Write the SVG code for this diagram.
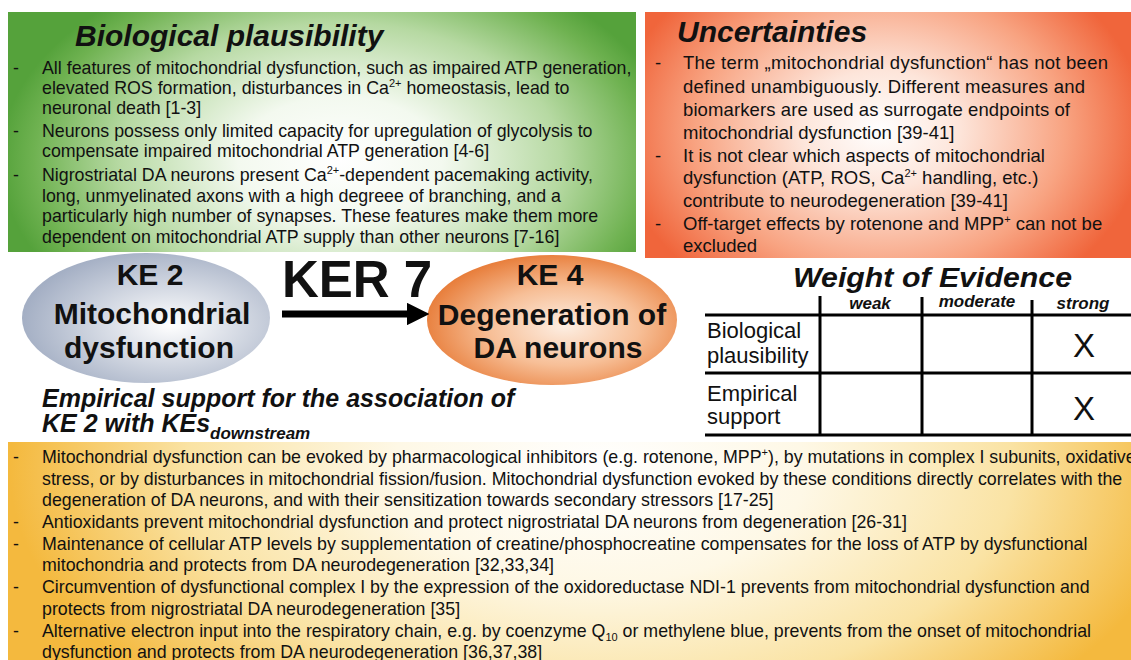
<svg xmlns="http://www.w3.org/2000/svg" width="1131" height="660" viewBox="0 0 1131 660">
<defs>
<radialGradient id="gGreen" gradientUnits="userSpaceOnUse" cx="340" cy="160" r="340" gradientTransform="translate(340 160) scale(1 0.62) translate(-340 -160)">
<stop offset="0" stop-color="#ffffff"/>
<stop offset="0.3" stop-color="#f3f9ef"/>
<stop offset="0.65" stop-color="#b6d9a2"/>
<stop offset="0.9" stop-color="#6fb251"/>
<stop offset="1" stop-color="#55a23b"/>
</radialGradient>
<radialGradient id="gOrange" gradientUnits="userSpaceOnUse" cx="880" cy="130" r="265" gradientTransform="translate(880 130) scale(1 0.75) translate(-880 -130)">
<stop offset="0" stop-color="#ffffff"/>
<stop offset="0.3" stop-color="#fde5da"/>
<stop offset="0.7" stop-color="#f8a381"/>
<stop offset="1" stop-color="#f0653b"/>
</radialGradient>
<radialGradient id="gYellow" gradientUnits="userSpaceOnUse" cx="600" cy="470" r="590" gradientTransform="translate(600 470) scale(1 0.55) translate(-600 -470)">
<stop offset="0" stop-color="#ffffff"/>
<stop offset="0.35" stop-color="#fef8e6"/>
<stop offset="0.7" stop-color="#fae3a4"/>
<stop offset="1" stop-color="#f4b93e"/>
</radialGradient>
<radialGradient id="gGray" cx="0.6" cy="0.55" r="0.6">
<stop offset="0" stop-color="#ffffff"/>
<stop offset="1" stop-color="#a4afc4"/>
</radialGradient>
<radialGradient id="gPeach" cx="0.55" cy="0.55" r="0.6">
<stop offset="0" stop-color="#fdeee2"/>
<stop offset="0.5" stop-color="#f7bf97"/>
<stop offset="1" stop-color="#e67630"/>
</radialGradient>
<marker id="head" viewBox="0 0 10 10" refX="0" refY="5" markerWidth="3.2" markerHeight="3.2" markerUnits="strokeWidth" orient="auto">
<path d="M0,0 L10,5 L0,10 z" fill="#000"/>
</marker>
<style>
text{font-family:"Liberation Sans",Arial,sans-serif;fill:#111}
.h{font-weight:bold;font-style:italic;font-size:30px}
.t{font-size:17.8px}
.o{font-size:18.5px}
.ke{font-weight:bold;font-size:30px;text-anchor:middle}
.th{font-weight:bold;font-style:italic;font-size:17px;text-anchor:middle}
.rl{font-size:22px}
.x{font-size:33px;text-anchor:middle}
.tl{stroke:#000;stroke-width:3;fill:none}
.sup{font-size:11px}
</style>
</defs>

<g id="bio-plausibility">
<rect x="8" y="12" width="628" height="240" fill="url(#gGreen)"/>
<text class="h" x="75" y="46">Biological plausibility</text>
<text class="t" x="13" y="74">-</text>
<text class="t" x="42" y="74">All features of mitochondrial dysfunction, such as impaired ATP generation,</text>
<text class="t" x="42" y="94">elevated ROS formation, disturbances in Ca<tspan class="sup" dy="-7">2+</tspan><tspan dy="7"> homeostasis, lead to</tspan></text>
<text class="t" x="42" y="114">neuronal death [1-3]</text>
<text class="t" x="13" y="137">-</text>
<text class="t" x="42" y="137">Neurons possess only limited capacity for upregulation of glycolysis to</text>
<text class="t" x="42" y="157">compensate impaired mitochondrial ATP generation [4-6]</text>
<text class="t" x="13" y="181">-</text>
<text class="t" x="42" y="181">Nigrostriatal DA neurons present Ca<tspan class="sup" dy="-7">2+</tspan><tspan dy="7">-dependent pacemaking activity,</tspan></text>
<text class="t" x="42" y="202">long, unmyelinated axons with a high degreee of branching, and a</text>
<text class="t" x="42" y="222">particularly high number of synapses. These features make them more</text>
<text class="t" x="42" y="243">dependent on mitochondrial ATP supply than other neurons [7-16]</text>
</g>

<g id="uncertainties">
<rect x="645" y="12" width="490" height="246" fill="url(#gOrange)"/>
<text class="h" x="677" y="42">Uncertainties</text>
<text class="o" x="655" y="69">-</text>
<text class="o" x="683" y="69" textLength="425" lengthAdjust="spacing">The term „mitochondrial dysfunction“ has not been</text>
<text class="o" x="683" y="93" textLength="402" lengthAdjust="spacing">defined unambiguously.  Different measures and</text>
<text class="o" x="683" y="116" textLength="387" lengthAdjust="spacing">biomarkers are used as surrogate endpoints of</text>
<text class="o" x="683" y="139">mitochondrial dysfunction [39-41]</text>
<text class="o" x="655" y="162">-</text>
<text class="o" x="683" y="162">It is not clear which aspects of mitochondrial</text>
<text class="o" x="683" y="184">dysfunction (ATP, ROS, Ca<tspan class="sup" dy="-7">2+</tspan><tspan dy="7"> handling, etc.)</tspan></text>
<text class="o" x="683" y="207">contribute to neurodegeneration [39-41]</text>
<text class="o" x="655" y="230">-</text>
<text class="o" x="683" y="230">Off-target effects by rotenone and MPP<tspan class="sup" dy="-7">+</tspan><tspan dy="7"> can not be</tspan></text>
<text class="o" x="683" y="252">excluded</text>
</g>

<g id="ke2">
<ellipse cx="146" cy="318" rx="124" ry="65" fill="url(#gGray)"/>
<text class="ke" x="150" y="285">KE 2</text>
<text class="ke" x="152" y="324">Mitochondrial</text>
<text class="ke" x="149" y="358">dysfunction</text>
</g>

<g id="ke4">
<ellipse cx="552" cy="320" rx="125" ry="65" fill="url(#gPeach)"/>
<text class="ke" x="550" y="285">KE 4</text>
<text class="ke" x="552" y="325">Degeneration of</text>
<text class="ke" x="558" y="358">DA neurons</text>
</g>

<g id="connectors">
<line x1="282" y1="314" x2="407" y2="314" stroke="#000" stroke-width="7" marker-end="url(#head)"/>
<text x="282" y="297" style="font-weight:bold;font-size:51px">KER 7</text>
</g>

<g id="woe-table">
<text x="793" y="287" style="font-weight:bold;font-style:italic;font-size:28px" textLength="279" lengthAdjust="spacingAndGlyphs">Weight of Evidence</text>
<text class="th" x="870" y="309">weak</text>
<text class="th" x="977" y="307">moderate</text>
<text class="th" x="1083" y="309">strong</text>
<line class="tl" x1="705" y1="315" x2="1131" y2="315"/>
<line class="tl" x1="705" y1="373" x2="1131" y2="373"/>
<line class="tl" x1="705" y1="435" x2="1131" y2="435"/>
<line class="tl" x1="820" y1="296" x2="820" y2="436"/>
<line class="tl" x1="922" y1="297" x2="922" y2="436"/>
<line class="tl" x1="1032" y1="300" x2="1032" y2="436"/>
<text class="rl" x="707" y="338">Biological</text>
<text class="rl" x="707" y="363">plausibility</text>
<text class="rl" x="707" y="401">Empirical</text>
<text class="rl" x="707" y="424">support</text>
<text class="x" x="1084" y="357">X</text>
<text class="x" x="1084" y="420">X</text>
</g>

<g id="empirical-heading">
<text x="42" y="407" style="font-weight:bold;font-style:italic;font-size:25px">Empirical support for the association of</text>
<text x="42" y="432" style="font-weight:bold;font-style:italic;font-size:25px">KE 2 with KEs<tspan dy="7" style="font-size:17px">downstream</tspan></text>
</g>

<g id="empirical-support">
<rect x="8" y="442" width="1130" height="220" fill="url(#gYellow)"/>
<text class="t" x="13" y="463">-</text>
<text class="t" x="42" y="463">Mitochondrial dysfunction can be evoked by pharmacological inhibitors (e.g. rotenone, MPP<tspan class="sup" dy="-7">+</tspan><tspan dy="7">), by mutations in complex I subunits, oxidative</tspan></text>
<text class="t" x="42" y="485">stress, or by disturbances in mitochondrial fission/fusion. Mitochondrial dysfunction evoked by these conditions directly correlates with the</text>
<text class="t" x="42" y="506">degeneration of DA neurons, and with their sensitization towards secondary stressors [17-25]</text>
<text class="t" x="13" y="528">-</text>
<text class="t" x="42" y="528">Antioxidants prevent mitochondrial dysfunction and protect nigrostriatal DA neurons from degeneration [26-31]</text>
<text class="t" x="13" y="550">-</text>
<text class="t" x="42" y="550">Maintenance of cellular ATP levels by supplementation of creatine/phosphocreatine compensates for the loss of ATP by dysfunctional</text>
<text class="t" x="42" y="571">mitochondria and protects from DA neurodegeneration [32,33,34]</text>
<text class="t" x="13" y="593">-</text>
<text class="t" x="42" y="593">Circumvention of dysfunctional complex I by the expression of the oxidoreductase NDI-1 prevents from mitochondrial dysfunction and</text>
<text class="t" x="42" y="615">protects from nigrostriatal DA neurodegeneration [35]</text>
<text class="t" x="13" y="637">-</text>
<text class="t" x="42" y="637">Alternative electron input into the respiratory chain, e.g. by coenzyme Q<tspan class="sup" dy="4">10</tspan><tspan dy="-4"> or methylene blue, prevents from the onset of mitochondrial</tspan></text>
<text class="t" x="42" y="658">dysfunction and protects from DA neurodegeneration [36,37,38]</text>
</g>
</svg>
